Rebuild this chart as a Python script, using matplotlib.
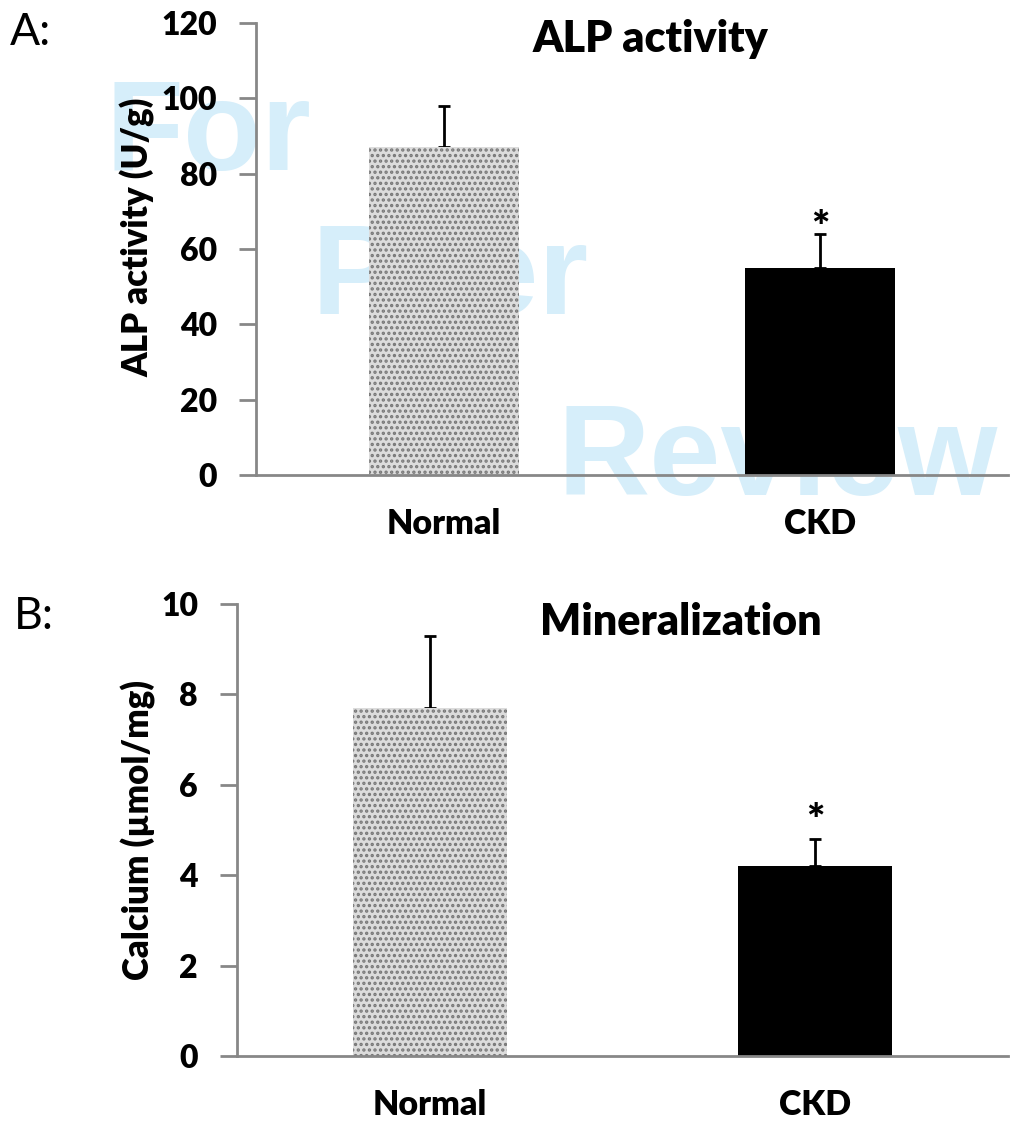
import numpy as np
import matplotlib
matplotlib.use("Agg")
import matplotlib.pyplot as plt

plt.rcParams['font.family'] = ['Lato', 'DejaVu Sans']
plt.rcParams['hatch.linewidth'] = 1.6

groups = ["Normal", "CKD"]

alp_mean = [87, 55]
alp_err = [11, 9]

ca_mean = [7.7, 4.2]
ca_err = [1.6, 0.6]

W, H = 1010, 1123
fig = plt.figure(figsize=(W / 100, H / 100), dpi=100)

grey = "#878787"
wm_color = "#d6eefa"
BW = 800

# watermark, behind everything
wm = dict(color=wm_color, fontsize=92, fontweight="bold", family="Liberation Sans",
          ha="left", va="baseline", zorder=-5)
fig.text(105 / W, 1 - 170 / H, "For", **wm)
fig.text(312 / W, 1 - 314 / H, "Peer", **wm)
fig.text(557 / W, 1 - 495 / H, "Review", **wm)


def panel(rect, means, errs, ymax, step, ylabel, title, title_x, title_y,
          star_off, label_y):
    ax = fig.add_axes(rect)
    ax.set_facecolor("none")
    x = np.arange(len(groups))
    bars = ax.bar(x, means, width=0.4, color=["#dcdcdc", "black"], zorder=2)
    bars[0].set_hatch("...")
    bars[0].set_edgecolor("#777777")
    bars[0].set_linewidth(0)
    bars[1].set_linewidth(0)
    ax.errorbar(x, means, yerr=[np.zeros(len(errs)), errs], fmt="none",
                ecolor="black", elinewidth=2, capsize=4, capthick=2, zorder=1)
    ax.set_xlim(-0.5, 1.5)
    ax.set_ylim(0, ymax)
    ax.set_yticks(np.arange(0, ymax + step / 2, step))
    ax.set_xticks(x)
    ax.set_xticklabels(groups, fontsize=24.5, fontweight=BW)
    for lab in ax.get_yticklabels():
        lab.set_fontweight(BW)
    ax.tick_params(axis="y", direction="out", length=12, width=2, color=grey,
                   labelsize=23, pad=16)
    ax.tick_params(axis="x", length=0, pad=24)
    for s in ["top", "right"]:
        ax.spines[s].set_visible(False)
    for s in ["left", "bottom"]:
        ax.spines[s].set_color(grey)
        ax.spines[s].set_linewidth(2)
    ax.set_ylabel(ylabel, fontsize=25, fontweight=BW, labelpad=4)
    ax.yaxis.label.set_y(label_y)
    ax.text(title_x, title_y, title, transform=ax.transAxes, ha="center", va="center",
            fontsize=31, fontweight=BW)
    # significance mark above CKD
    ax.annotate("*", xy=(1, means[1] + errs[1]), xytext=(0, star_off),
                textcoords="offset points", ha="center", va="bottom",
                fontsize=31, fontweight=BW)
    return ax


panel([256 / W, 1 - 475 / H, 752 / W, 452 / H], alp_mean, alp_err, 120, 20,
      "ALP activity (U/g)", "ALP activity", 0.525, 0.965, -11, 0.525)
panel([237 / W, 1 - 1056 / H, 771 / W, 452 / H], ca_mean, ca_err, 10, 2,
      "Calcium (\u00b5mol/mg)", "Mineralization", 0.575, 0.96, -2, 0.5)

fig.text(10 / W, 1 - 12 / H, "A:", fontsize=32, ha="left", va="top")
fig.text(14 / W, 1 - 596 / H, "B:", fontsize=32, ha="left", va="top")

fig.savefig("out.png", dpi=100)
